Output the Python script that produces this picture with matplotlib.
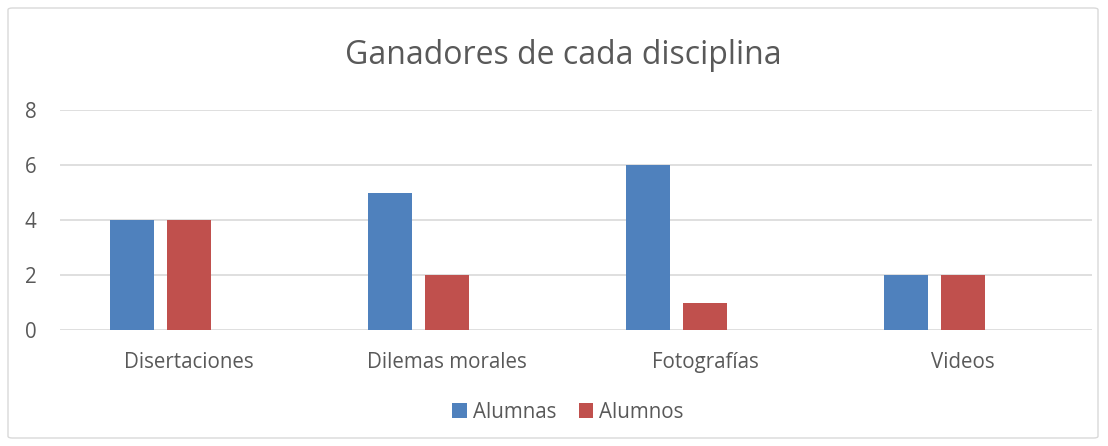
import numpy as np
import matplotlib.pyplot as plt
from matplotlib.patches import FancyBboxPatch

categories = ['Disertaciones', 'Dilemas morales', 'Fotografías', 'Videos']
alumnas = [4, 5, 6, 2]
alumnos = [4, 2, 1, 2]

plt.rcParams['font.family'] = ['Open Sans', 'DejaVu Sans']
grey = '#595959'

fig = plt.figure(figsize=(11.08, 4.46), dpi=100)
ax = fig.add_axes([60/1108, 1-330/446, 1032/1108, 220/446])

# fondo del gráfico con borde gris claro
fig.patches.append(FancyBboxPatch((8/1108, 8/446), 1090/1108, 430/446,
                                  boxstyle='round,pad=0,rounding_size=0.004',
                                  transform=fig.transFigure, fc='none',
                                  ec='#d9d9d9', lw=1))

x = np.arange(len(categories))
w = 0.174
off = 0.221
ax.bar(x - off, alumnas, w, color='#4f81bd', label='Alumnas', zorder=3)
ax.bar(x, alumnos, w, color='#c0504d', label='Alumnos', zorder=3)

ax.set_xlim(-0.5, len(categories) - 0.5)
ax.set_ylim(0, 8)
ax.set_yticks(range(0, 9, 2))
ax.set_xticks(x)
ax.set_xticklabels(categories)
ax.yaxis.grid(True, color='#d9d9d9', lw=1.2, zorder=0)
for s in ax.spines.values():
    s.set_visible(False)
ax.tick_params(length=0, labelsize=14.8, colors=grey)
ax.tick_params(axis='y', pad=17)
ax.tick_params(axis='x', pad=16)

fig.text(0.508, 1-55/446, 'Ganadores de cada disciplina', ha='center', va='center',
         fontsize=23, color=grey)

leg = fig.legend(loc='center', bbox_to_anchor=(568/1108, 1-412/446), ncol=2, frameon=False,
                 fontsize=14.8, handlelength=0.7, handleheight=0.7,
                 handletextpad=0.3, columnspacing=1.1)
for t in leg.get_texts():
    t.set_color(grey)

fig.savefig('out.png', dpi=100)
